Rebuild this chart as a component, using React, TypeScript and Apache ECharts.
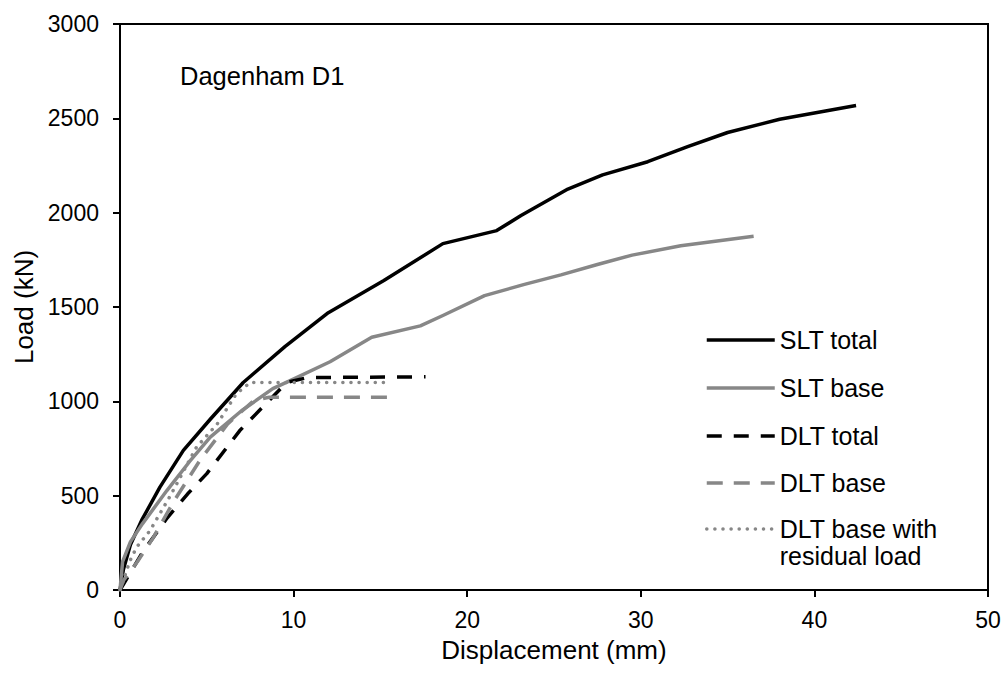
import React, { useEffect, useRef } from "react";
import * as echarts from "echarts";

// Displacement (mm), Load (kN)
const sltTotal: [number, number][] = [
  [0, 0], [0.2, 110], [0.6, 240], [1.25, 370], [2.3, 545], [3.65, 740], [5.2, 905],
  [7.1, 1100], [9.5, 1290], [12.0, 1470], [15.2, 1640], [18.6, 1836], [21.7, 1905],
  [23.1, 1985], [25.8, 2125], [27.8, 2200], [30.4, 2270], [32.7, 2350], [35.0, 2425],
  [38.0, 2495], [42.4, 2568],
];
const sltBase: [number, number][] = [
  [0, 0], [0.15, 150], [0.6, 255], [1.3, 352], [2.7, 527], [4.0, 680], [5.2, 810],
  [7.0, 950], [8.8, 1067], [9.8, 1110], [12.1, 1210], [14.5, 1340], [17.3, 1400],
  [18.6, 1455], [21.0, 1560], [23.3, 1620], [25.4, 1670], [27.5, 1725], [29.5, 1775],
  [32.3, 1825], [36.5, 1875],
];
const dltTotal: [number, number][] = [
  [0, 0], [1.3, 200], [2.7, 380], [3.9, 510], [5.0, 617], [6.9, 845], [8.2, 968],
  [9.6, 1100], [10.8, 1126], [17.6, 1130],
];
const dltBase: [number, number][] = [
  [0, 0], [0.2, 50], [1.0, 150], [1.9, 275], [3.1, 470], [4.6, 687], [6.2, 880],
  [7.7, 1004], [8.6, 1022], [15.4, 1022],
];
const dltBaseResidual: [number, number][] = [
  [0, 0], [0.58, 156], [0.96, 227], [1.73, 315], [2.9, 500], [4.4, 756], [5.6, 880],
  [6.7, 1040], [7.5, 1100], [15.2, 1100],
];

const seriesNames = ["SLT total", "SLT base", "DLT total", "DLT base", "DLT base with residual load"];
const lastLegendLines = ["DLT base with", "residual load"];
const xAxisTitle = "Displacement (mm)";
const yAxisTitle = "Load (kN)";
const annotation = "Dagenham D1";

const BLACK = "#000000";
const GRAY = "#878787";

export default function App() {
  const ref = useRef<HTMLDivElement>(null);
  useEffect(() => {
    document.body.style.margin = "0";
    if (!ref.current) return;
    const chart = echarts.init(ref.current, null, { renderer: "svg" });
    const font = "Liberation Sans, Arial, sans-serif";
    const lineW = 3.5;
    const legendFont = 25;
    const lh = 27;
    const defs = [
      { name: seriesNames[0], data: sltTotal, color: BLACK, type: "solid" as any, cap: "butt" },
      { name: seriesNames[1], data: sltBase, color: GRAY, type: "solid" as any, cap: "butt" },
      { name: seriesNames[2], data: dltTotal, color: BLACK, type: [15, 12] as any, cap: "butt" },
      { name: seriesNames[3], data: dltBase, color: GRAY, type: [16, 11] as any, cap: "butt" },
      { name: seriesNames[4], data: dltBaseResidual, color: GRAY, type: [0.1, 8] as any, cap: "round" },
    ];
    const rowCenters = [340, 388, 436, 483];
    const legends: any[] = rowCenters.map((c, i) => ({
      data: [seriesNames[i]],
      orient: "vertical",
      left: 705,
      top: c - 13,
      padding: 0,
      itemWidth: 68,
      itemHeight: 26,
      itemGap: 0,
      selectedMode: false,
      lineStyle: { width: lineW },
      itemStyle: { opacity: 0 },
      textStyle: { fontFamily: font, fontSize: legendFont, color: BLACK, lineHeight: 26 },
    }));
    // three-line rich text: blank first line so the icon sits beside "DLT base with"
    legends.push({
      data: [seriesNames[4]],
      formatter: () => `{p| }\n{t|${lastLegendLines[0]}}\n{t|${lastLegendLines[1]}}`,
      orient: "vertical",
      left: 705,
      top: 530 - 13 - (lh * 3) / 2 + 13,
      padding: 0,
      itemWidth: 68,
      itemHeight: 26,
      selectedMode: false,
      lineStyle: { width: lineW },
      itemStyle: { opacity: 0 },
      textStyle: {
        fontFamily: font, fontSize: legendFont, color: BLACK,
        rich: {
          p: { fontFamily: font, fontSize: legendFont, lineHeight: lh, color: BLACK },
          t: { fontFamily: font, fontSize: legendFont, lineHeight: lh, color: BLACK },
        },
      },
    });

    chart.setOption({
      animation: false,
      backgroundColor: "#ffffff",
      grid: {
        left: 120, right: 19, top: 24, bottom: 87,
        show: true, borderColor: BLACK, borderWidth: 2, backgroundColor: "transparent",
      },
      legend: legends,
      graphic: [
        {
          type: "text",
          left: 180,
          top: 63,
          style: { text: annotation, fontFamily: font, fontSize: 25.5, fill: BLACK },
        },
      ],
      xAxis: {
        type: "value", min: 0, max: 50, interval: 10,
        name: xAxisTitle, nameLocation: "middle", nameGap: 47,
        nameTextStyle: { fontFamily: font, fontSize: 26, color: BLACK },
        axisLine: { show: true, lineStyle: { color: BLACK, width: 2 } },
        axisTick: { show: true, inside: false, length: 7, lineStyle: { color: BLACK, width: 2 } },
        axisLabel: { fontFamily: font, fontSize: 23, color: BLACK, margin: 18, formatter: (v: number) => String(v) },
        splitLine: { show: false },
      },
      yAxis: {
        type: "value", min: 0, max: 3000, interval: 500,
        name: yAxisTitle, nameLocation: "middle", nameGap: 83,
        nameTextStyle: { fontFamily: font, fontSize: 26, color: BLACK },
        axisLine: { show: true, lineStyle: { color: BLACK, width: 2 } },
        axisTick: { show: true, inside: false, length: 7, lineStyle: { color: BLACK, width: 2 } },
        axisLabel: { fontFamily: font, fontSize: 23, color: BLACK, margin: 21, formatter: (v: number) => String(v) },
        splitLine: { show: false },
      },
      series: defs.map((d) => ({
        type: "line",
        name: d.name,
        data: d.data,
        symbol: "none",
        showSymbol: false,
        smooth: false,
        color: d.color,
        lineStyle: { color: d.color, width: lineW, type: d.type, cap: d.cap, join: "round" },
        emphasis: { disabled: true },
        z: 2,
      })),
    });
    return () => chart.dispose();
  }, []);
  return <div ref={ref} style={{ width: 1007, height: 677 }} />;
}
